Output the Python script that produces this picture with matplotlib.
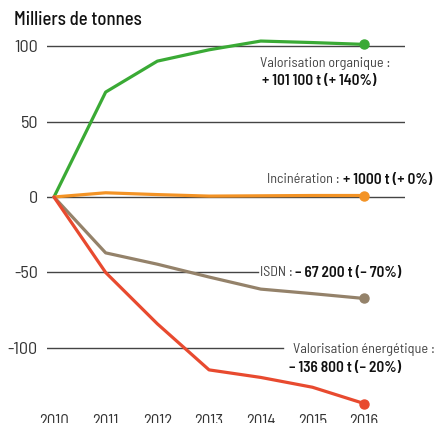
import matplotlib
matplotlib.use("Agg")
import matplotlib.pyplot as plt

# -------------------------
# Données (milliers de tonnes, écart par rapport à 2010)
# -------------------------
years = [2010, 2011, 2012, 2013, 2014, 2015, 2016]
organique = [0, 69.5, 90, 97.5, 103.3, 102.3, 101.1]
incineration = [0, 2.8, 1.6, 0.6, 0.8, 1.0, 1.0]
isdn = [0, -37, -44.5, -53, -61, -64, -67.2]
energetique = [0, -50, -84, -114.5, -119.5, -126, -136.8]

yticks = [100, 50, 0, -50, -100]
ytick_labels = ["100", "50", "0", "-50", "-100"]

colors = {
    "organique": "#3aaa35",
    "incineration": "#f39325",
    "isdn": "#94826a",
    "energetique": "#e84a2f",
}

plt.rcParams["font.family"] = ["Barlow Semi Condensed", "DejaVu Sans"]

fig = plt.figure(figsize=(4.35, 4.23), dpi=100)
ax = fig.add_axes([0.108, 0.031, 0.823, 0.898])

# grille horizontale (coupée à gauche des étiquettes ISDN / énergétique)
grid_xmax = {100: 1.0, 50: 1.0, 0: 1.0, -50: 0.589, -100: 0.659}
for yv in yticks:
    ax.axhline(yv, xmax=grid_xmax[yv], color="#444444", lw=1.0, zorder=1)

series = [
    (organique, colors["organique"]),
    (incineration, colors["incineration"]),
    (isdn, colors["isdn"]),
    (energetique, colors["energetique"]),
]
for vals, c in series:
    ax.plot(years, vals, color=c, lw=2.3, zorder=4, solid_capstyle="round")
    ax.plot(years[-1], vals[-1], "o", color=c, ms=6.5, zorder=5)

ax.set_xlim(2009.865, 2016.79)
ax.set_ylim(-141, 110.6)

ax.set_yticks(yticks)
ax.set_yticklabels(ytick_labels)
ax.set_xticks(years)
ax.set_xticklabels([str(y) for y in years])
ax.tick_params(axis="y", length=0, pad=6.5, labelsize=13, labelcolor="#333333")
ax.tick_params(axis="x", length=0, pad=3, labelsize=12, labelcolor="#333333")
for s in ax.spines.values():
    s.set_visible(False)

# -------------------------
# Annotations
# -------------------------
light = dict(fontsize=10.2, color="#444444", va="center", clip_on=False, zorder=3)
bold = dict(fontsize=11, color="#111111", fontweight="semibold", va="center",
            clip_on=False, zorder=3)

ax.text(2016.50, 88.7, "Valorisation organique :", ha="right", **light)
ax.text(2016.23, 76.8, "+ 101 100 t (+ 140%)", ha="right", **bold)

ax.text(2015.53, 11.3, "Incinération :", ha="right", **light)
ax.text(2015.59, 11.3, "+ 1000 t (+ 0%)", ha="left", **bold)

ax.text(2013.98, -50.3, "ISDN :", ha="left", **light)
ax.text(2014.66, -50.3, "– 67 200 t (– 70%)", ha="left", **bold)

ax.text(2014.62, -101.3, "Valorisation énergétique :", ha="left", **light)
ax.text(2014.55, -113.2, "– 136 800 t (– 20%)", ha="left", **bold)

fig.text(0.032, 0.953, "Milliers de tonnes", fontsize=13.5, color="#111111",
         fontweight="medium", va="center", ha="left")

fig.savefig("out.png", dpi=100, facecolor="white")
